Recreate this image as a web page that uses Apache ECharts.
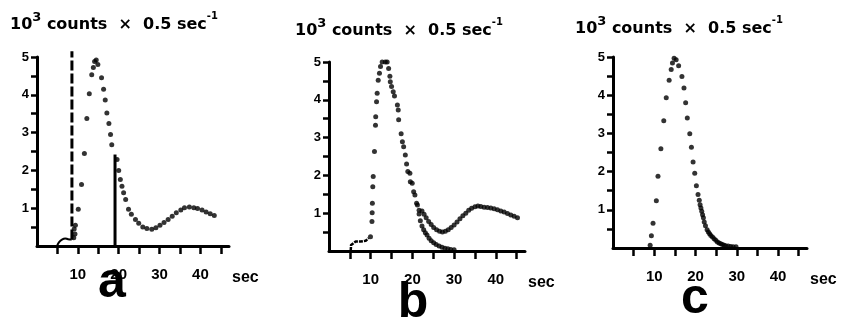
<!DOCTYPE html>
<html>
<head>
<meta charset="utf-8">
<script src="https://cdn.jsdelivr.net/npm/echarts@6.0.0/dist/echarts.min.js"></script>
<style>
html,body{margin:0;padding:0;background:#fff;}
#main{width:842px;height:321px;}
</style>
</head>
<body>
<div id="main"></div>
<script>
var FONT = '"Liberation Sans", Arial, sans-serif';
var HEAD_FONT = '"DejaVu Sans", sans-serif';

// ticks / labels
var xMax = 47;
var xTickValues = [5, 10, 15, 20, 25, 30, 35, 40, 45];
var xLabelValues = [10, 20, 30, 40];
var yTickStep = 0.5;
var yLabelValues = [1, 2, 3, 4, 5];

// panel a : [sec, 10^3 counts]
var aBaseline = [[4.9, 0], [5.4, 0.1], [6.1, 0.17], [6.9, 0.2], [7.6, 0.18], [8.5, 0.17]];
var aInjection = [[8.55, 0.17], [8.55, 5.15]];
var aCut = [[19.1, 0], [19.1, 2.42]];
var aDots = [
    [9.0, 0.22], [9.3, 0.32], [9.1, 0.45], [9.4, 0.55],
    [10.1, 0.97], [10.9, 1.63], [11.6, 2.45], [12.2, 3.37], [12.8, 4.03], [13.4, 4.53],
    [13.8, 4.72], [14.1, 4.88], [14.5, 4.92], [14.9, 4.8],
    [15.8, 4.45], [16.3, 4.15], [16.7, 3.86], [17.1, 3.52], [17.6, 3.24], [18.0, 2.95], [18.3, 2.68],
    [19.6, 2.29], [20.0, 2.0], [20.4, 1.76], [20.8, 1.58], [21.2, 1.41], [21.7, 1.23], [22.4, 0.97],
    [23.1, 0.84], [24.1, 0.70], [24.9, 0.60], [25.9, 0.50], [26.9, 0.46], [28.1, 0.44], [29.1, 0.48],
    [30.1, 0.55], [31.1, 0.62], [32.1, 0.70], [33.1, 0.79], [34.1, 0.88], [35.2, 0.95], [36.1, 1.01],
    [37.3, 1.03], [38.4, 1.01], [39.3, 0.99], [40.4, 0.95], [41.4, 0.90], [42.4, 0.85], [43.4, 0.81]
];

// panel b
var bBaseline = [[5.2, 0], [5.3, 0.16], [6.4, 0.25], [7.6, 0.25], [8.8, 0.27], [9.5, 0.34]];
var bRise = [
    [9.95, 0.38], [10.3, 0.78], [10.35, 1.01], [10.4, 1.26], [10.5, 1.70], [10.6, 1.97], [10.9, 2.63],
    [11.15, 3.33], [11.2, 3.55], [11.4, 3.95], [11.55, 4.17], [11.8, 4.52], [12.1, 4.70], [12.35, 4.88],
    [12.75, 5.0], [13.5, 5.0], [13.95, 5.0], [14.3, 4.83]
];
var bUpper = [
    [14.7, 4.48], [15.4, 4.21], [16.4, 3.86], [16.7, 3.47], [17.6, 2.89], [18.3, 2.54], [18.9, 2.10],
    [19.5, 1.83], [20.3, 1.57], [21.0, 1.26], [21.6, 1.08], [22.3, 1.06], [22.8, 0.97], [23.3, 0.88],
    [23.9, 0.78], [24.5, 0.70], [25.1, 0.62], [25.8, 0.56], [26.5, 0.52], [27.2, 0.50], [27.9, 0.52],
    [28.6, 0.56], [29.3, 0.62], [30.0, 0.69], [30.7, 0.77], [31.4, 0.85], [32.1, 0.93], [32.8, 1.00],
    [33.5, 1.08], [34.2, 1.13], [35.0, 1.17], [35.7, 1.19], [36.4, 1.18], [37.2, 1.16], [38.0, 1.15],
    [38.8, 1.14], [39.6, 1.12], [40.4, 1.09], [41.2, 1.06], [42.0, 1.03], [42.8, 0.99], [43.6, 0.95],
    [44.4, 0.92], [45.2, 0.88]
];
var bLower = [
    [14.6, 4.62], [15.0, 4.35], [15.7, 4.10], [16.6, 3.73], [17.3, 3.10], [17.9, 2.76], [18.6, 2.30],
    [19.4, 2.06], [19.95, 1.79], [20.6, 1.48], [21.2, 1.22], [21.6, 0.98], [21.9, 0.80], [22.3, 0.66],
    [22.7, 0.56], [23.1, 0.48], [23.5, 0.42], [24.0, 0.34], [24.5, 0.27], [25.1, 0.22], [25.7, 0.17],
    [26.4, 0.13], [27.1, 0.10], [27.8, 0.07], [28.5, 0.06], [29.2, 0.04], [30.0, 0.03]
];

// panel c
var cDots = [
    [9.0, 0.07], [9.3, 0.32], [9.7, 0.65], [10.5, 1.24], [10.9, 1.88], [11.6, 2.6], [12.3, 3.33],
    [12.9, 3.93], [13.6, 4.39], [14.1, 4.67], [14.4, 4.84], [14.8, 4.97], [15.3, 4.93], [15.9, 4.77],
    [16.7, 4.49], [17.2, 4.19], [17.6, 3.80], [18.0, 3.40], [18.6, 2.99], [19.0, 2.64], [19.4, 2.25],
    [19.8, 1.96], [20.2, 1.63], [20.6, 1.40], [20.9, 1.25], [21.1, 1.13], [21.3, 1.05], [21.5, 0.96],
    [21.7, 0.87], [21.9, 0.79], [22.1, 0.68], [22.4, 0.58], [22.8, 0.48], [23.1, 0.42], [23.4, 0.37],
    [23.7, 0.33], [24.1, 0.29], [24.5, 0.24], [24.9, 0.20], [25.3, 0.16], [25.7, 0.13], [26.1, 0.11],
    [26.5, 0.09], [26.9, 0.07], [27.3, 0.06], [27.9, 0.05], [28.5, 0.04], [29.1, 0.035], [29.8, 0.03]
];

// the x category axis only carries ticks and labels (one slot per second)
var secSlots = [];
for (var s = 0; s <= xMax; s++) secSlots.push(String(s));

function inList(list) {
    return function (index, value) { return list.indexOf(+value) >= 0; };
}

// hidden value axis, used by the series
function xValueAxis(idx) {
    return {gridIndex: idx, type: 'value', min: 0, max: xMax, show: false, position: 'top'};
}
function xTickAxis(idx) {
    return {
        gridIndex: idx, type: 'category', data: secSlots, boundaryGap: false, position: 'bottom',
        axisLine: {show: true, onZero: false, lineStyle: {color: '#000', width: 3}},
        axisTick: {show: true, length: 8, interval: inList(xTickValues), lineStyle: {color: '#000', width: 2.5}},
        axisLabel: {interval: inList(xLabelValues), margin: 21, color: '#000', fontSize: 15,
                    fontWeight: 'bold', fontFamily: FONT},
        splitLine: {show: false},
        name: 'sec', nameLocation: 'end', nameGap: 3,
        nameTextStyle: {color: '#000', fontSize: 16, fontWeight: 'bold', fontFamily: FONT,
                        align: 'left', verticalAlign: 'top', padding: [24, 0, 0, 0]}
    };
}
function yAxisFor(idx) {
    return {
        gridIndex: idx, type: 'value', min: 0, max: 5, interval: yTickStep, position: 'left',
        axisLine: {show: true, onZero: false, lineStyle: {color: '#000', width: 3}},
        axisTick: {show: true, length: 6, lineStyle: {color: '#000', width: 2.5}},
        axisLabel: {margin: 8, color: '#000', fontSize: 13, fontWeight: 'bold', fontFamily: FONT,
                    showMinLabel: false,
                    formatter: function (v) { return yLabelValues.indexOf(v) >= 0 ? String(v) : ''; }},
        splitLine: {show: false}
    };
}
function headTitle(left, top) {
    var base = {fontSize: 16, fontWeight: 'bold', fontFamily: HEAD_FONT, color: '#000'};
    return {
        text: '{n|10}{s|3}{n| counts  ×  0.5 sec}{t|-1}',
        left: left, top: top, padding: 0,
        textStyle: {rich: {
            n: Object.assign({lineHeight: 22, verticalAlign: 'bottom'}, base),
            s: Object.assign({}, base, {fontSize: 13, lineHeight: 9, verticalAlign: 'top'}),
            t: Object.assign({}, base, {fontSize: 10, lineHeight: 8, verticalAlign: 'top'})
        }}
    };
}
function dots(idx, data) {
    return {type: 'scatter', xAxisIndex: idx, yAxisIndex: idx, data: data, symbolSize: 5,
            itemStyle: {color: '#000'}, silent: true};
}
function trace(idx, data, style, smooth) {
    return {type: 'line', xAxisIndex: idx, yAxisIndex: idx, data: data, showSymbol: false, symbol: 'none',
            smooth: smooth || false, clip: false, lineStyle: style, silent: true};
}
function letter(txt, x, y) {
    return {type: 'text', x: x, y: y, silent: true,
            style: {text: txt, font: 'bold 50px ' + FONT, fill: '#000', align: 'center', verticalAlign: 'middle',
                    textAlign: 'center', textVerticalAlign: 'middle'}};
}

var option = {
    animation: false,
    backgroundColor: '#fff',
    title: [headTitle(10, 11), headTitle(295, 17), headTitle(575, 15)],
    grid: [
        {left: 37, top: 57, width: 192, height: 189},
        {left: 329, top: 62, width: 196, height: 189},
        {left: 613, top: 57, width: 194, height: 191}
    ],
    xAxis: [xValueAxis(0), xValueAxis(1), xValueAxis(2), xTickAxis(0), xTickAxis(1), xTickAxis(2)],
    yAxis: [yAxisFor(0), yAxisFor(1), yAxisFor(2)],
    series: [
        trace(0, aBaseline, {color: '#000', width: 2}, true),
        trace(0, aInjection, {color: '#000', width: 3, type: [10, 3]}),
        trace(0, aCut, {color: '#000', width: 3}),
        dots(0, aDots),
        trace(1, bBaseline, {color: '#000', width: 2.5, type: [4, 1]}),
        dots(1, bRise),
        dots(1, bUpper),
        dots(1, bLower),
        dots(2, cDots)
    ],
    graphic: [letter('a', 112, 283), letter('b', 413, 303), letter('c', 695, 299)]
};

var chart = echarts.init(document.getElementById('main'));
chart.setOption(option);
</script>
</body>
</html>
